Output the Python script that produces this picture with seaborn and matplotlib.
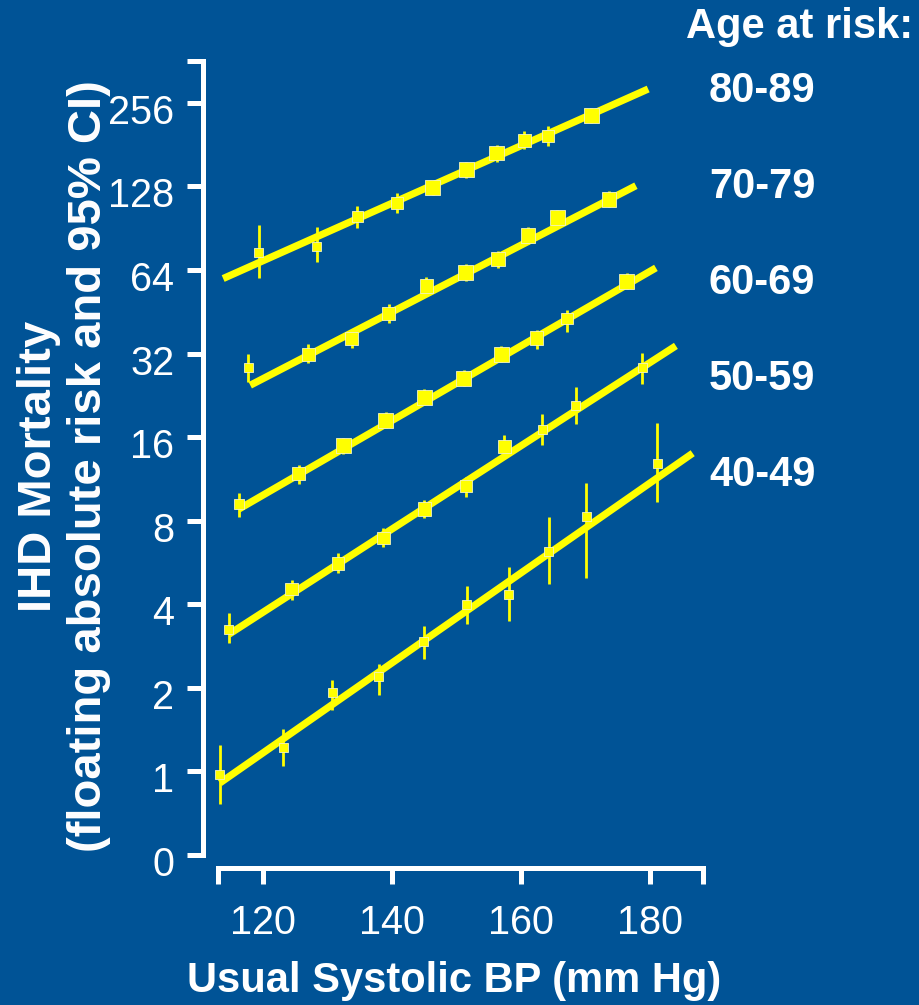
import numpy as np
import pandas as pd
import matplotlib
matplotlib.use("Agg")
import matplotlib.pyplot as plt
import matplotlib.transforms as mtransforms
import seaborn as sns

# ---------------- data ----------------
age_groups = ["80-89", "70-79", "60-69", "50-59", "40-49"]

sbp_80 = [119.3, 128.3, 134.6, 140.8, 146.3, 151.5, 156.2, 160.5, 164.1, 170.9]
risk_80 = [73.8, 78.0, 99.5, 111.8, 126.7, 146.7, 168.6, 186.6, 194.6, 230.5]
lo_80 = [59.8, 68.1, 90.4, 102.3, 119.2, 137.5, 157.2, 174.3, 179.0, 216.0]
hi_80 = [92.9, 91.6, 108.8, 121.5, 134.2, 156.5, 180.5, 203.4, 211.5, 246.0]

sbp_70 = [117.7, 127.0, 133.7, 139.5, 145.3, 151.4, 156.4, 161.1, 165.6, 173.6]
risk_70 = [28.6, 31.8, 36.2, 44.6, 55.9, 62.7, 70.0, 85.0, 99.0, 115.0]
lo_70 = [25.2, 29.5, 33.5, 41.3, 52.0, 58.5, 65.3, 79.3, 93.0, 107.5]
hi_70 = [32.0, 34.5, 39.2, 48.3, 60.3, 67.2, 75.0, 91.1, 105.0, 123.5]

sbp_60 = [116.2, 125.5, 132.4, 139.0, 145.0, 151.1, 156.9, 162.4, 167.1, 176.4]
risk_60 = [9.19, 11.8, 14.9, 18.4, 22.2, 26.1, 31.8, 36.4, 42.8, 58.3]
lo_60 = [8.27, 10.85, 13.9, 17.2, 20.8, 24.4, 29.8, 33.3, 38.3, 54.5]
hi_60 = [10.1, 12.7, 15.9, 19.7, 23.8, 27.9, 34.1, 38.8, 45.8, 62.3]

sbp_50 = [114.7, 124.4, 131.6, 138.6, 145.0, 151.4, 157.4, 163.3, 168.5, 178.8]
risk_50 = [3.25, 4.53, 5.61, 6.93, 8.82, 10.7, 14.8, 17.0, 20.8, 28.4]
lo_50 = [2.91, 4.14, 5.2, 6.41, 8.2, 9.71, 13.9, 15.0, 17.9, 24.8]
hi_50 = [3.73, 4.89, 6.1, 7.5, 9.5, 11.46, 16.3, 19.3, 24.2, 32.1]

sbp_40 = [113.3, 123.1, 130.7, 137.9, 144.9, 151.6, 158.1, 164.3, 170.1, 181.1]
risk_40 = [0.975, 1.22, 1.92, 2.19, 2.93, 3.98, 4.35, 6.20, 8.27, 12.9]
lo_40 = [0.766, 1.044, 1.66, 1.89, 2.53, 3.41, 3.48, 4.73, 4.99, 9.37]
hi_40 = [1.243, 1.424, 2.13, 2.43, 3.34, 4.65, 5.47, 8.22, 10.94, 17.97]

# fitted lines: start / end SBP and risk
fit_x0 = [113.8, 118.0, 116.2, 114.7, 113.3]
fit_x1 = [179.7, 177.8, 180.9, 184.0, 186.6]
fit_y0 = [59.6, 24.6, 8.8, 3.12, 0.909]
fit_y1 = [287.0, 128.7, 65.1, 34.1, 14.0]

x_tick_vals = [120, 140, 160, 180]
y_tick_vals = [0.5, 1, 2, 4, 8, 16, 32, 64, 128, 256]
y_tick_labels = ["0", "1", "2", "4", "8", "16", "32", "64", "128", "256"]

# ---------------- build tables ----------------
groups = [
    (sbp_80, risk_80, lo_80, hi_80),
    (sbp_70, risk_70, lo_70, hi_70),
    (sbp_60, risk_60, lo_60, hi_60),
    (sbp_50, risk_50, lo_50, hi_50),
    (sbp_40, risk_40, lo_40, hi_40),
]
rows = []
for g, (xs, ys, los, his) in zip(age_groups, groups):
    for x, y, lo, hi in zip(xs, ys, los, his):
        rows.append(dict(group=g, sbp=x, risk=y, lo=lo, hi=hi))
pts = pd.DataFrame(rows)
# marker side ~ inverse of CI width (log scale), in pixels -> points^2
w = np.log2(pts["hi"] / pts["lo"])
side_px = np.clip(2.9 / w, 9.0, 15.0)
pts["area"] = (side_px * 0.72) ** 2

line_rows = []
for g, x0, x1, y0, y1 in zip(age_groups, fit_x0, fit_x1, fit_y0, fit_y1):
    line_rows.append(dict(group=g, sbp=x0, risk=y0))
    line_rows.append(dict(group=g, sbp=x1, risk=y1))
lines = pd.DataFrame(line_rows)

# ---------------- style ----------------
BG = "#005396"
YEL = "#ffff00"
WHITE = "white"

sns.set_theme(style="ticks")
plt.rcParams["font.family"] = ["Liberation Sans", "DejaVu Sans"]

fig = plt.figure(figsize=(9.2, 10.05), dpi=100, facecolor=BG)
ax = fig.add_axes([218 / 920, 1 - 855 / 1005, (703 - 218) / 920, (855 - 61) / 1005])
ax.set_facecolor(BG)

ax.set_yscale("log", base=2)
ax.set_xlim(113.0, 188.2)
ax.set_ylim(0.5, 2 ** 8.5)

# error bars
ax.vlines(pts["sbp"], pts["lo"], pts["hi"], color=YEL, lw=2.0, zorder=3, clip_on=False)

# fitted lines
sns.lineplot(data=lines, x="sbp", y="risk", units="group", estimator=None,
             sort=False, color=YEL, lw=5.2, ax=ax, zorder=4, legend=False)
for l in ax.lines:
    l.set_solid_capstyle("butt")
    l.set_clip_on(False)

# markers
amin, amax = pts["area"].min(), pts["area"].max()
sns.scatterplot(data=pts, x="sbp", y="risk", size="area", sizes=(amin, amax),
                size_norm=(amin, amax), marker="s", color=YEL,
                edgecolor="#f4f4c0", linewidth=0.6, legend=False, ax=ax,
                zorder=5, clip_on=False)

# axes styling
for s in ["top", "right"]:
    ax.spines[s].set_visible(False)
ax.spines["left"].set_position(("outward", 11))
ax.spines["bottom"].set_position(("outward", 9))
for s in ["left", "bottom"]:
    ax.spines[s].set_color(WHITE)
    ax.spines[s].set_linewidth(3.6)
    ax.spines[s].set_capstyle("projecting")

ax.set_xticks([113.0] + x_tick_vals + [188.2])
ax.set_xticklabels([""] + [str(v) for v in x_tick_vals] + [""])
ax.set_yticks(y_tick_vals + [2 ** 8.5])
ax.set_yticklabels(y_tick_labels + [""])
ax.yaxis.set_minor_locator(matplotlib.ticker.NullLocator())
ax.tick_params(axis="both", colors=WHITE, length=11.5, width=3.6,
               labelsize=28.5, labelcolor=WHITE)
ax.tick_params(axis="x", pad=15)
ax.tick_params(axis="y", pad=9)
ax.set_xlabel("")
ax.set_ylabel("")
# y tick labels sit slightly below their ticks in the reference
shift = mtransforms.ScaledTranslation(0, -6 / 100, fig.dpi_scale_trans)
for lab in ax.get_yticklabels():
    lab.set_transform(lab.get_transform() + shift)

# texts
fig.text(454 / 920, 1 - 992 / 1005, "Usual Systolic BP (mm Hg)", color=WHITE,
         fontsize=30, fontweight="bold", ha="center", va="baseline")
fig.text(64 / 920, 1 - 466 / 1005,
         "IHD Mortality\n(floating absolute risk and 95% CI)",
         color=WHITE, fontsize=34, fontweight="bold", rotation=90,
         ha="center", va="center", multialignment="center", linespacing=1.15)
fig.text(686 / 920, 1 - 38 / 1005, "Age at risk:", color=WHITE, fontsize=30,
         fontweight="bold", ha="left", va="baseline")
for g, base in zip(age_groups, [102, 198, 294, 390, 486]):
    fig.text(709 / 920, 1 - base / 1005, g, color=WHITE, fontsize=30,
             fontweight="bold", ha="left", va="baseline")

fig.savefig("out.png", dpi=100, facecolor=BG)
